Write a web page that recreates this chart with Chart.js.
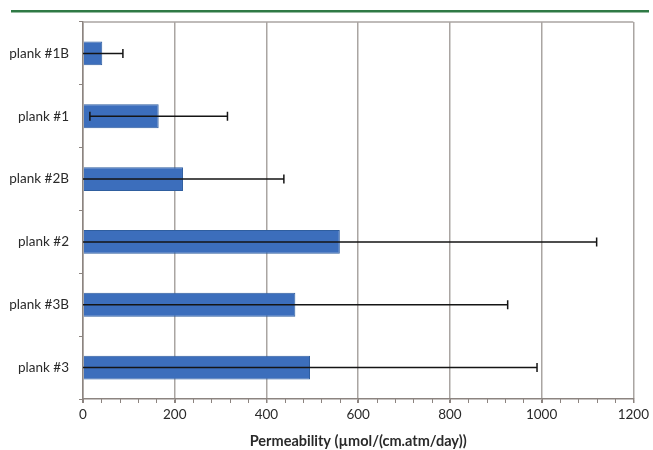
<!DOCTYPE html>
<html>
<head>
<meta charset="utf-8">
<script src="https://cdn.jsdelivr.net/npm/chart.js@4"></script>
<style>
  html, body { margin: 0; padding: 0; background: #fff; }
  #wrap { width: 653px; height: 450px; }
</style>
</head>
<body>
<div id="wrap"><canvas id="myChart" width="653" height="450"></canvas></div>
<script>
const categories = ['plank #1B', 'plank #1', 'plank #2B', 'plank #2', 'plank #3B', 'plank #3'];
const permeability = [42, 165, 218, 560, 463, 495];
const errors = [45, 150, 220, 560, 463, 495];
const xTicks = [0, 200, 400, 600, 800, 1000, 1200];
const minorStep = 40;

// error bars + frame + minor ticks
const extras = {
    id: 'extras',
    beforeDraw(chart) {
        const ctx = chart.ctx;
        ctx.save();
        ctx.fillStyle = '#2f7a45';
        ctx.fillRect(11, 10, 638, 2.5);
        ctx.restore();
    },
    afterDatasetsDraw(chart) {
        const ctx = chart.ctx;
        const x = chart.scales.x;
        const area = chart.chartArea;
        const meta = chart.getDatasetMeta(0);
        ctx.save();
        // top frame line
        ctx.strokeStyle = '#aaa5a2';
        ctx.lineWidth = 1.5;
        ctx.beginPath();
        ctx.moveTo(area.left, area.top);
        ctx.lineTo(area.right, area.top);
        ctx.stroke();
        // minor ticks on x axis
        ctx.strokeStyle = '#8c8480';
        ctx.lineWidth = 1;
        for (let v = 0; v <= x.max; v += minorStep) {
            const px = Math.round(x.getPixelForValue(v)) + 0.5;
            ctx.beginPath();
            ctx.moveTo(px, area.bottom);
            ctx.lineTo(px, area.bottom + 4);
            ctx.stroke();
        }
        // error bars
        ctx.strokeStyle = '#151515';
        ctx.lineWidth = 1.5;
        meta.data.forEach((bar, i) => {
            const lo = permeability[i] - errors[i];
            const hi = permeability[i] + errors[i];
            const x0 = x.getPixelForValue(Math.max(0, lo));
            const x1 = x.getPixelForValue(hi);
            const y = bar.y;
            ctx.beginPath();
            ctx.moveTo(x0, y);
            ctx.lineTo(x1, y);
            ctx.moveTo(x1, y - 4.5);
            ctx.lineTo(x1, y + 4.5);
            if (lo > 0) {
                ctx.moveTo(x0, y - 4.5);
                ctx.lineTo(x0, y + 4.5);
            }
            ctx.stroke();
        });
        ctx.restore();
    }
};

new Chart(document.getElementById('myChart'), {
    type: 'bar',
    data: {
        labels: categories,
        datasets: [{
            data: permeability,
            backgroundColor: '#3c6ebc',
            borderColor: '#2f5e9f',
            borderWidth: 1,
            barPercentage: 0.38,
            categoryPercentage: 1
        }]
    },
    options: {
        indexAxis: 'y',
        responsive: false,
        animation: false,
        layout: {
            padding: { top: 22, right: 13, bottom: 0, left: 0 }
        },
        plugins: {
            legend: { display: false },
            tooltip: { enabled: false }
        },
        scales: {
            x: {
                min: 0,
                max: 1200,
                afterBuildTicks(scale) {
                    scale.ticks = xTicks.map(v => ({ value: v }));
                },
                afterFit(scale) { scale.height = 51; },
                grid: {
                    color: '#aaa5a2',
                    lineWidth: 1.5,
                    tickLength: 4,
                    tickColor: '#8c8480'
                },
                border: { color: '#8c8480', width: 1.5 },
                ticks: {
                    color: '#2a2a2a',
                    padding: 4,
                    callback: v => String(v),
                    font: { family: 'Lato', size: 13.5 }
                },
                title: {
                    display: true,
                    text: 'Permeability (µmol/(cm.atm/day))',
                    color: '#2a2a2a',
                    padding: { top: 4, bottom: 0 },
                    font: { family: 'Lato', size: 14.5, weight: 'bold' }
                }
            },
            y: {
                afterFit(scale) { scale.width = 83; },
                grid: {
                    drawOnChartArea: false,
                    offset: true,
                    tickLength: 4,
                    tickColor: '#8c8480'
                },
                border: { color: '#8c8480', width: 1.5 },
                ticks: {
                    color: '#2a2a2a',
                    padding: 10,
                    font: { family: 'Lato', size: 13.5 }
                }
            }
        }
    },
    plugins: [extras]
});
</script>
</body>
</html>
